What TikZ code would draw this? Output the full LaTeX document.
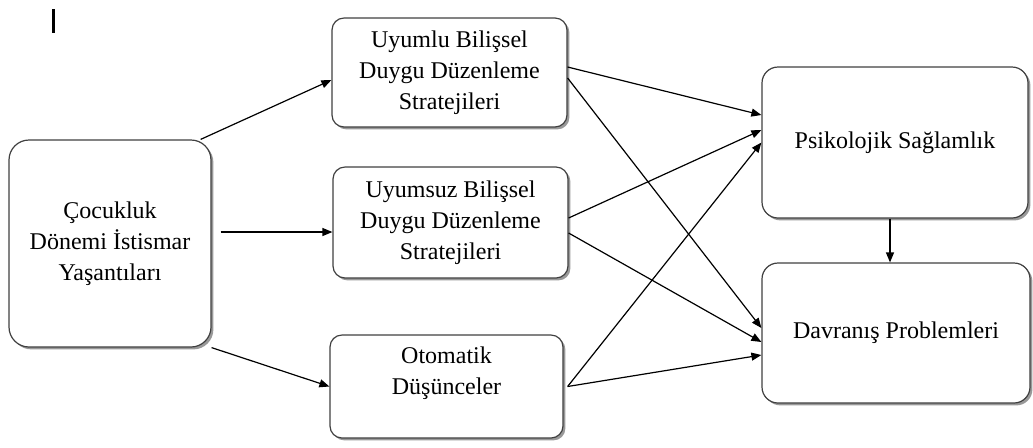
\documentclass[tikz,border=0pt]{standalone}
\usepackage{fontspec}
\setmainfont{Liberation Serif}
\usetikzlibrary{arrows.meta,shadows}

\begin{document}
\begin{tikzpicture}[x=0.5pt,y=0.5pt]
\tikzstyle{every node}+=[inner sep=0pt]
\tikzstyle{kutu}=[draw=black!75, line width=0.6pt, fill=white, rounded corners=6pt, align=center, font=\fontsize{12}{15.5}\selectfont, drop shadow={shadow xshift=1.2pt, shadow yshift=-1.2pt, fill=black!50, opacity=0.8}]
\tikzstyle{ok}=[black, line width=0.6pt, -{Triangle[length=5pt,width=4pt]}]
\useasboundingbox (0,0) rectangle (1033,-447);
\draw [line width=1.5pt] (53,-9) -- (53,-33);
\node [kutu, rounded corners=10pt, minimum width=101pt, minimum height=103.5pt] (cocuk) at (110,-243.5) {Çocukluk\\Dönemi İstismar\\Yaşantıları};
\node [kutu, minimum width=117.5pt, minimum height=54.5pt] (uyumlu) at (449.5,-72.5) {Uyumlu Bilişsel\\Duygu Düzenleme\\Stratejileri};
\node [kutu, minimum width=117.5pt, minimum height=55.5pt] (uyumsuz) at (450.5,-222.5) {Uyumsuz Bilişsel\\Duygu Düzenleme\\Stratejileri};
\node [kutu, minimum width=116.5pt, minimum height=51.5pt] (otomatik) at (446.5,-386.5) {Otomatik\\Düşünceler\\~};
\node [kutu, rounded corners=8pt, minimum width=133pt, minimum height=75.5pt] (saglamlik) at (895,-142.5) {Psikolojik Sağlamlık};
\node [kutu, rounded corners=8pt, minimum width=134pt, minimum height=70pt] (davranis) at (896,-333) {Davranış Problemleri};
\draw [ok] ([xshift=-5.5pt]cocuk.north east) -- ([yshift=-3.75pt]uyumlu.west);
\draw [ok] ([xshift=4.5pt,yshift=5.75pt]cocuk.east) -- ([yshift=-4.75pt]uyumsuz.west);
\draw [ok] (cocuk.south east) -- (otomatik.west);
\draw [ok] ([yshift=2.75pt]uyumlu.east) -- ([yshift=13.75pt]saglamlik.west);
\draw [ok] ([yshift=-2.75pt]uyumlu.east) -- ([yshift=2.5pt]davranis.west);
\draw [ok] ([yshift=2.25pt]uyumsuz.east) -- ([yshift=6.25pt]saglamlik.west);
\draw [ok] ([yshift=-5.25pt]uyumsuz.east) -- ([yshift=-4.5pt]davranis.west);
\draw [ok] ([xshift=2pt]otomatik.east) -- (saglamlik.west);
\draw [ok] ([xshift=2pt]otomatik.east) -- ([yshift=-11pt]davranis.west);
\draw [ok] ([xshift=-2.5pt]saglamlik.south) -- ([xshift=-3pt]davranis.north);
\end{tikzpicture}
\end{document}
